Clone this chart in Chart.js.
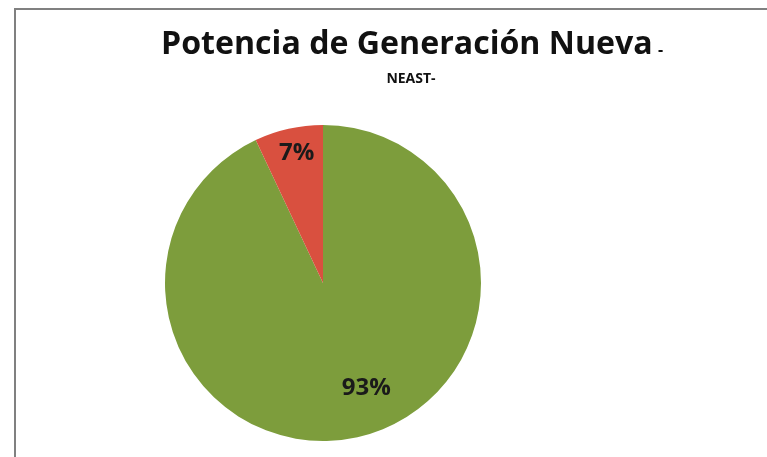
<!DOCTYPE html>
<html>
<head>
<meta charset="utf-8">
<script src="https://cdn.jsdelivr.net/npm/chart.js@4"></script>
<style>
  html, body { margin: 0; padding: 0; background: #fff; overflow: hidden; }
  #frame { position: absolute; left: 14px; top: 8px; width: 780px; height: 480px;
           border-left: 2px solid #808080; border-top: 2px solid #808080; }
  #wrap { position: absolute; left: 0; top: 0; width: 767px; height: 457px; }
</style>
</head>
<body>
<div id="frame"></div>
<div id="wrap"><canvas id="myChart" width="767" height="457"></canvas></div>
<script>
/* Data */
var categories = ['Otra', 'NEAST'];
var shares = [93, 7];
var sliceLabels = ['93%', '7%'];
var titleText = 'Potencia de Generación Nueva';
var subtitleText = 'NEAST-';

/* titles drawn at fixed spots, pie sits left of the title centre */
const titlePlugin = {
    id: 'titles',
    afterDraw(chart) {
        const c = chart.ctx;
        c.save();
        c.fillStyle = '#111';
        c.textBaseline = 'alphabetic';
        c.textAlign = 'left';
        c.font = 'bold 30px "Open Sans"';
        var w = c.measureText(titleText).width;
        var size = 30 * 492 / w;
        c.font = 'bold ' + size + 'px "Open Sans"';
        c.fillText(titleText, 161, 54);
        c.font = 'bold 16px "Open Sans"';
        c.fillText('-', 658, 55);
        c.font = 'bold 14px "Open Sans"';
        c.textAlign = 'center';
        c.fillText(subtitleText, 411, 83);
        c.restore();
    }
};

/* percentage labels inside slices */
const labelPlugin = {
    id: 'sliceLabels',
    afterDatasetsDraw(chart) {
        const c = chart.ctx;
        const arcs = chart.getDatasetMeta(0).data;
        const frac = [0.72, 0.84];
        c.save();
        c.fillStyle = '#1a1a1a';
        c.font = 'bold 24px "Open Sans"';
        c.textAlign = 'center';
        c.textBaseline = 'middle';
        arcs.forEach(function (arc, i) {
            const p = arc.getProps(['x', 'y', 'startAngle', 'endAngle', 'outerRadius'], true);
            const mid = (p.startAngle + p.endAngle) / 2 + (i === 0 ? -0.17 : 0.02);
            const r = p.outerRadius * frac[i];
            c.fillText(sliceLabels[i], p.x + Math.cos(mid) * r, p.y + Math.sin(mid) * r);
        });
        c.restore();
    }
};

const ctx = document.getElementById('myChart');
new Chart(ctx, {
    type: 'pie',
    data: {
        labels: categories,
        datasets: [{
            data: shares,
            backgroundColor: ['#7d9d3c', '#d9503f'],
            borderWidth: 0
        }]
    },
    options: {
        responsive: false,
        animation: false,
        layout: { padding: { left: 165, right: 286, top: 125, bottom: 16 } },
        plugins: {
            legend: { display: false },
            tooltip: { enabled: false },
            title: { display: false }
        }
    },
    plugins: [titlePlugin, labelPlugin]
});
</script>
</body>
</html>
